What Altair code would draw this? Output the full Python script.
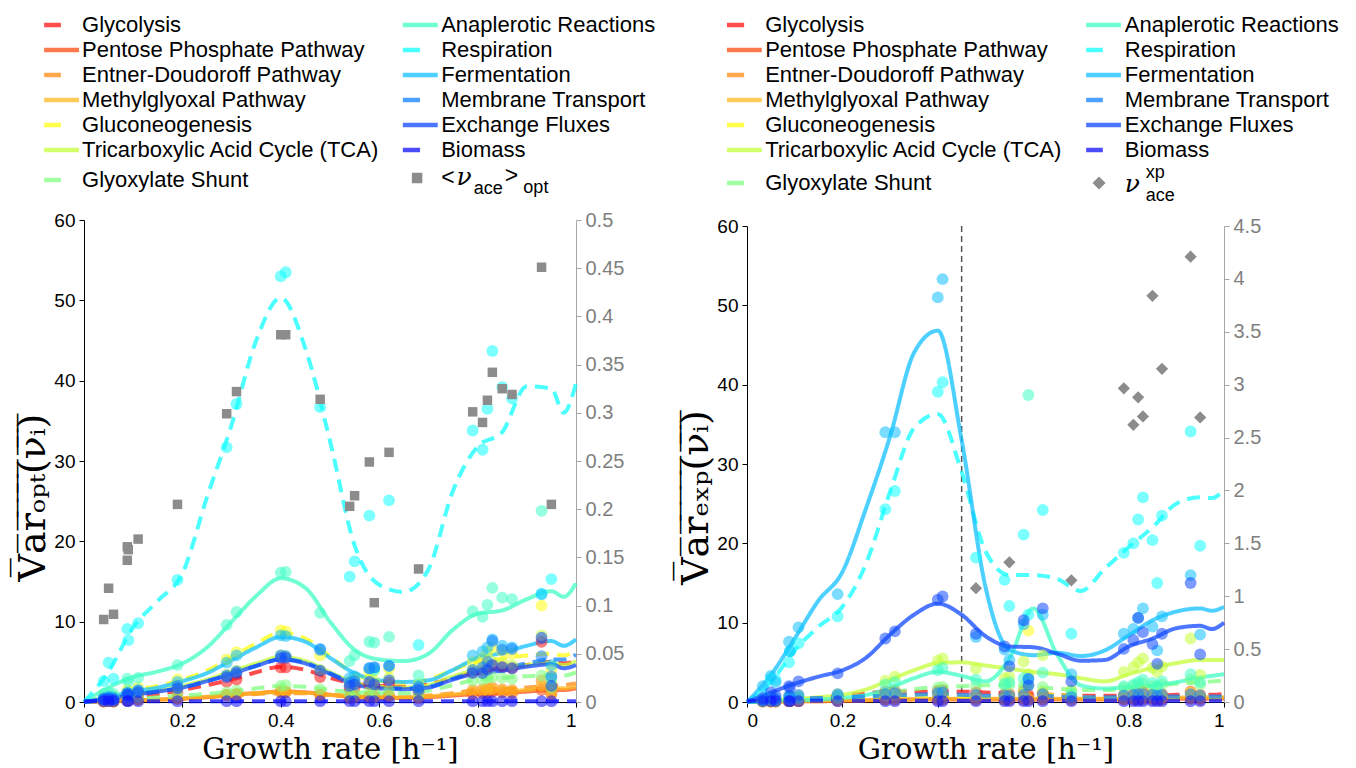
import altair as alt
import pandas as pd

CATS = ["Glycolysis", "Pentose Phosphate Pathway", "Entner-Doudoroff Pathway",
        "Methylglyoxal Pathway", "Gluconeogenesis", "Tricarboxylic Acid Cycle (TCA)",
        "Glyoxylate Shunt", "Anaplerotic Reactions", "Respiration", "Fermentation",
        "Membrane Transport", "Exchange Fluxes", "Biomass"]
COLORS = ["#ff1010", "#ff4a10", "#ff8a10", "#ffb820", "#ffff10", "#c4ff3a",
          "#80ff80", "#40ffc4", "#10ffff", "#10c0ff", "#1080ff", "#1048ff", "#1010ff"]
DASHED = [True, False, True, False, True, False, True, False, True, False, True, False, True]

GRID = [0, 0.05, 0.1, 0.15, 0.2, 0.25, 0.3, 0.35, 0.4, 0.45, 0.5, 0.55, 0.6,
        0.65, 0.7, 0.75, 0.8, 0.85, 0.9, 0.95, 0.975, 1.0]

# ---- left panel (optimal) smoothed curves
L_CURVES = {
    "Glycolysis": [0, 0.3, 0.7, 1.0, 1.5, 2.1, 2.8, 3.7, 4.4, 4.0, 3.0, 2.3, 2.0, 1.9, 2.2, 3.0, 3.8, 4.1, 4.6, 5.0, 4.8, 5.1],
    "Pentose Phosphate Pathway": [0, 0.1, 0.2, 0.3, 0.4, 0.6, 0.9, 1.1, 1.3, 1.2, 0.9, 0.6, 0.5, 0.5, 0.6, 0.8, 1.0, 1.1, 1.3, 1.5, 1.5, 1.7],
    "Entner-Doudoroff Pathway": [0, 0.1, 0.2, 0.3, 0.4, 0.6, 0.8, 1.0, 1.1, 1.1, 0.9, 0.7, 0.6, 0.6, 0.8, 1.1, 1.5, 1.6, 1.8, 2.0, 2.1, 2.3],
    "Methylglyoxal Pathway": [0, 0.1, 0.2, 0.3, 0.45, 0.65, 0.9, 1.1, 1.25, 1.15, 0.9, 0.65, 0.55, 0.55, 0.7, 0.95, 1.2, 1.3, 1.5, 1.7, 1.7, 1.9],
    "Gluconeogenesis": [0, 0.7, 1.5, 2.0, 2.8, 3.9, 5.6, 7.3, 8.6, 7.9, 5.7, 3.5, 2.6, 2.4, 2.8, 4.0, 5.0, 5.4, 5.8, 6.0, 5.8, 6.4],
    "Tricarboxylic Acid Cycle (TCA)": [0, 0.5, 1.0, 1.4, 2.0, 2.8, 3.8, 4.8, 5.6, 5.1, 3.7, 2.4, 1.9, 1.8, 2.1, 3.2, 4.0, 4.2, 4.6, 4.9, 4.6, 5.1],
    "Glyoxylate Shunt": [0, 0.2, 0.4, 0.6, 0.8, 1.0, 1.3, 1.7, 2.0, 1.9, 1.5, 1.2, 1.1, 1.1, 1.4, 2.1, 2.8, 3.0, 3.2, 3.4, 3.3, 3.7],
    "Anaplerotic Reactions": [0, 1.8, 3.1, 3.8, 4.8, 6.8, 10.0, 13.2, 15.4, 14.2, 10.0, 6.5, 5.3, 5.1, 6.0, 9.0, 11.0, 11.4, 12.8, 13.8, 13.1, 14.8],
    "Respiration": [0, 3.8, 9.3, 12.6, 16.0, 25.5, 34.5, 45.0, 50.3, 44.0, 32.5, 19.5, 14.6, 13.7, 16.5, 26.3, 31.8, 33.6, 39.3, 39.0, 36.0, 39.7],
    "Fermentation": [0, 0.6, 1.3, 1.8, 2.6, 3.6, 5.2, 6.8, 8.1, 7.5, 5.5, 3.6, 2.7, 2.5, 2.7, 4.0, 5.5, 6.1, 7.0, 7.6, 7.0, 7.8],
    "Membrane Transport": [0, 0.4, 0.9, 1.3, 1.8, 2.6, 3.5, 4.5, 5.3, 4.9, 3.6, 2.3, 1.8, 1.7, 1.9, 2.9, 3.8, 4.2, 4.8, 5.3, 5.3, 5.9],
    "Exchange Fluxes": [0, 0.4, 0.9, 1.3, 1.8, 2.6, 3.5, 4.5, 5.3, 4.8, 3.5, 2.2, 1.7, 1.6, 1.8, 2.8, 3.6, 3.9, 4.4, 4.7, 4.2, 4.6],
    "Biomass": [0.1, 0.1, 0.1, 0.1, 0.1, 0.1, 0.1, 0.1, 0.1, 0.1, 0.1, 0.1, 0.1, 0.1, 0.1, 0.1, 0.1, 0.1, 0.1, 0.1, 0.1, 0.1],
}

# ---- left panel sampled points
L_PX = [0.04, 0.05, 0.06, 0.088, 0.09, 0.11, 0.19, 0.29, 0.31, 0.40, 0.41, 0.48, 0.54,
        0.55, 0.58, 0.59, 0.62, 0.68, 0.79, 0.81, 0.82, 0.83, 0.85, 0.87, 0.93, 0.95]
L_PTS = {
    "Glycolysis": [0.2, 0.3, 0.2, 0.6, 0.5, 0.8, 1.2, 2.5, 2.8, 4.3, 4.3, 3.1, 1.7, 1.8, 2.2, 2.0, 2.4, 1.2, 3.7, 3.9, 4.2, 4.6, 4.4, 4.2, 7.5, 2.0],
    "Pentose Phosphate Pathway": [0.05, 0.1, 0.05, 0.2, 0.2, 0.3, 0.4, 0.9, 1.0, 1.3, 1.3, 0.9, 0.5, 0.6, 0.6, 0.6, 0.7, 0.5, 1.0, 1.1, 1.2, 1.3, 1.2, 1.1, 1.5, 1.0],
    "Entner-Doudoroff Pathway": [0.05, 0.1, 0.05, 0.2, 0.2, 0.3, 0.4, 0.8, 0.9, 1.2, 1.2, 0.9, 0.6, 0.6, 0.7, 0.6, 0.8, 0.6, 1.5, 1.6, 1.7, 1.8, 1.6, 1.5, 2.7, 1.2],
    "Methylglyoxal Pathway": [0.05, 0.1, 0.05, 0.2, 0.2, 0.3, 0.45, 0.9, 1.0, 1.3, 1.3, 0.9, 0.6, 0.6, 0.7, 0.6, 0.8, 0.6, 1.3, 1.4, 1.5, 1.6, 1.4, 1.3, 2.0, 1.1],
    "Gluconeogenesis": [0.6, 0.8, 0.7, 1.5, 1.3, 1.8, 2.8, 5.3, 6.2, 8.9, 8.8, 5.8, 2.6, 2.8, 3.8, 3.9, 4.2, 2.2, 5.0, 5.5, 6.2, 6.8, 6.3, 6.0, 12.0, 4.0],
    "Tricarboxylic Acid Cycle (TCA)": [0.4, 0.5, 0.4, 1.0, 0.9, 1.3, 1.9, 3.4, 3.9, 5.8, 5.7, 4.0, 2.2, 2.4, 2.8, 2.6, 3.0, 1.6, 4.0, 4.2, 4.6, 5.0, 4.8, 4.6, 8.3, 2.4],
    "Glyoxylate Shunt": [0.2, 0.2, 0.2, 0.5, 0.4, 0.6, 0.9, 1.2, 1.4, 2.0, 2.1, 1.6, 1.0, 1.1, 1.3, 1.2, 1.4, 0.9, 2.7, 2.8, 3.0, 3.1, 3.0, 2.9, 3.3, 1.8],
    "Anaplerotic Reactions": [1.0, 1.2, 1.0, 2.9, 2.5, 3.0, 4.6, 9.6, 11.2, 16.1, 16.2, 11.1, 5.1, 5.8, 7.5, 7.4, 8.1, 3.3, 11.3, 10.6, 12.1, 14.2, 13.0, 12.8, 23.8, 2.9],
    "Respiration": [2.6, 4.9, 2.9, 9.1, 7.7, 9.8, 15.2, 31.7, 37.1, 53.0, 53.5, 36.7, 15.6, 17.5, 23.2, 4.0, 25.1, 7.1, 33.8, 31.4, 36.5, 43.7, 39.2, 37.8, 13.5, 15.3],
    "Fermentation": [0.5, 0.7, 0.6, 1.2, 1.0, 1.5, 2.5, 4.9, 5.8, 8.3, 8.2, 6.6, 3.0, 3.2, 4.2, 4.3, 4.5, 2.0, 5.8, 6.3, 6.8, 7.8, 7.0, 6.8, 13.4, 4.6],
    "Membrane Transport": [0.4, 0.5, 0.4, 1.1, 1.0, 1.4, 2.0, 3.3, 3.8, 5.8, 5.7, 6.5, 2.4, 2.6, 4.2, 4.3, 4.5, 1.8, 4.0, 4.3, 5.0, 7.6, 6.5, 6.6, 5.7, 3.2],
    "Exchange Fluxes": [0.3, 0.4, 0.3, 0.9, 0.8, 1.2, 1.7, 3.1, 3.6, 5.5, 5.5, 3.9, 2.0, 2.2, 2.5, 2.2, 2.7, 1.5, 3.6, 3.6, 4.0, 4.6, 4.3, 4.2, 8.0, 2.0],
    "Biomass": [0.1, 0.1, 0.1, 0.1, 0.1, 0.1, 0.1, 0.1, 0.1, 0.1, 0.1, 0.1, 0.1, 0.1, 0.1, 0.1, 0.1, 0.1, 0.1, 0.1, 0.1, 0.1, 0.1, 0.1, 0.1, 0.1],
}
SQ_X = [0.04, 0.05, 0.06, 0.088, 0.088, 0.09, 0.11, 0.19, 0.29, 0.31, 0.40, 0.41, 0.48, 0.54,
        0.55, 0.58, 0.59, 0.62, 0.68, 0.79, 0.81, 0.82, 0.83, 0.85, 0.87, 0.93, 0.95]
SQ_Y = [0.0856, 0.118, 0.091, 0.147, 0.161, 0.158, 0.169, 0.205, 0.299, 0.322, 0.381, 0.381, 0.314,
        0.203, 0.214, 0.249, 0.103, 0.259, 0.138, 0.301, 0.290, 0.313, 0.342, 0.325, 0.319, 0.451, 0.205]

# ---- right panel (experimental) smoothed curves
R_CURVES = {
    "Glycolysis": [0, 0.1, 0.3, 0.5, 0.8, 1.1, 1.3, 1.3, 1.3, 1.3, 1.2, 1.1, 1.0, 0.9, 0.8, 0.8, 0.8, 0.8, 0.9, 0.9, 0.9, 1.0],
    "Pentose Phosphate Pathway": [0, 0.05, 0.1, 0.1, 0.15, 0.2, 0.25, 0.3, 0.3, 0.3, 0.3, 0.3, 0.3, 0.3, 0.3, 0.3, 0.3, 0.35, 0.4, 0.4, 0.4, 0.45],
    "Entner-Doudoroff Pathway": [0, 0.05, 0.1, 0.1, 0.15, 0.2, 0.3, 0.3, 0.35, 0.35, 0.35, 0.35, 0.35, 0.35, 0.35, 0.4, 0.4, 0.45, 0.5, 0.5, 0.5, 0.55],
    "Methylglyoxal Pathway": [0, 0.05, 0.1, 0.15, 0.2, 0.25, 0.3, 0.35, 0.4, 0.4, 0.4, 0.4, 0.4, 0.4, 0.4, 0.4, 0.45, 0.5, 0.55, 0.6, 0.6, 0.6],
    "Gluconeogenesis": [0, 0.1, 0.2, 0.3, 0.4, 0.5, 0.7, 0.8, 0.8, 0.7, 0.6, 0.8, 1.0, 0.9, 0.6, 0.5, 0.5, 0.5, 0.5, 0.5, 0.5, 0.5],
    "Tricarboxylic Acid Cycle (TCA)": [0, 0.2, 0.4, 0.6, 0.9, 1.6, 2.8, 4.0, 4.9, 5.0, 4.6, 4.2, 3.8, 3.5, 3.0, 2.6, 3.5, 4.3, 4.9, 5.3, 5.3, 5.3],
    "Glyoxylate Shunt": [0, 0.1, 0.2, 0.3, 0.5, 0.8, 1.2, 1.6, 1.9, 2.0, 2.1, 2.1, 1.9, 1.7, 1.5, 1.5, 1.8, 2.0, 2.3, 2.5, 2.6, 2.7],
    "Anaplerotic Reactions": [0, 0.1, 0.2, 0.3, 0.5, 0.9, 1.8, 3.0, 3.8, 3.3, 2.6, 5.5, 11.8, 6.0, 2.1, 1.7, 1.9, 2.1, 2.5, 3.1, 3.3, 3.5],
    "Respiration": [0, 2.5, 6.5, 9.5, 12.0, 17.5, 26.5, 34.5, 36.3, 29.0, 19.0, 16.0, 16.0, 15.5, 14.0, 16.8, 19.5, 22.0, 25.0, 25.8, 25.7, 26.8],
    "Fermentation": [0, 3.4, 8.0, 12.8, 16.4, 24.5, 33.5, 44.0, 46.8, 33.0, 14.5, 6.6, 5.9, 6.2, 5.8, 6.5, 8.4, 10.3, 11.4, 11.8, 11.5, 12.0],
    "Membrane Transport": [0, 0.2, 0.4, 0.5, 0.6, 0.7, 0.8, 0.9, 1.0, 0.9, 0.8, 0.8, 0.8, 0.7, 0.6, 0.6, 0.6, 0.7, 0.7, 0.7, 0.7, 0.7],
    "Exchange Fluxes": [0, 1.2, 2.3, 3.2, 4.0, 5.6, 8.5, 11.0, 12.4, 11.0, 8.3, 7.0, 6.9, 6.1, 5.2, 5.3, 7.0, 8.0, 9.3, 9.6, 9.2, 10.0],
    "Biomass": [0.15, 0.15, 0.15, 0.15, 0.15, 0.15, 0.15, 0.15, 0.15, 0.15, 0.15, 0.15, 0.15, 0.15, 0.15, 0.15, 0.15, 0.15, 0.15, 0.15, 0.15, 0.15],
}

R_PX = [0.033, 0.05, 0.06, 0.088, 0.09, 0.108, 0.19, 0.29, 0.31, 0.40, 0.41, 0.48, 0.54, 0.55,
        0.58, 0.59, 0.62, 0.68, 0.79, 0.81, 0.82, 0.83, 0.85, 0.86, 0.87, 0.93, 0.95]
R_PTS = {
    "Glycolysis": [0.1, 0.2, 0.1, 0.3, 0.3, 0.4, 0.6, 1.3, 1.4, 1.4, 1.5, 1.2, 1.0, 1.0, 1.3, 0.9, 1.1, 0.7, 0.9, 1.0, 1.1, 1.2, 1.0, 0.8, 1.0, 1.3, 0.9],
    "Pentose Phosphate Pathway": [0.05, 0.05, 0.05, 0.1, 0.1, 0.1, 0.15, 0.3, 0.3, 0.3, 0.3, 0.3, 0.3, 0.3, 0.3, 0.3, 0.3, 0.3, 0.3, 0.3, 0.35, 0.35, 0.3, 0.3, 0.3, 0.4, 0.3],
    "Entner-Doudoroff Pathway": [0.05, 0.05, 0.05, 0.1, 0.1, 0.1, 0.2, 0.3, 0.35, 0.4, 0.4, 0.35, 0.35, 0.35, 0.4, 0.35, 0.4, 0.35, 0.4, 0.45, 0.45, 0.5, 0.45, 0.4, 0.45, 0.5, 0.45],
    "Methylglyoxal Pathway": [0.05, 0.05, 0.05, 0.1, 0.1, 0.15, 0.2, 0.35, 0.4, 0.45, 0.45, 0.4, 0.4, 0.4, 0.45, 0.4, 0.45, 0.4, 0.5, 0.5, 0.55, 0.55, 0.5, 0.5, 0.55, 0.6, 0.55],
    "Gluconeogenesis": [0.1, 0.2, 0.1, 0.3, 0.3, 0.4, 0.5, 0.8, 0.9, 1.0, 1.0, 0.8, 0.8, 0.9, 1.2, 9.0, 1.2, 0.6, 0.8, 0.9, 1.0, 1.0, 0.9, 0.8, 0.9, 1.2, 0.8],
    "Tricarboxylic Acid Cycle (TCA)": [0.2, 0.4, 0.3, 0.6, 0.6, 0.8, 1.0, 2.7, 3.2, 5.2, 5.5, 4.2, 3.0, 3.2, 5.1, 3.5, 5.9, 1.5, 3.8, 4.4, 5.0, 5.5, 4.3, 3.8, 4.5, 8.0, 3.4],
    "Glyoxylate Shunt": [0.1, 0.2, 0.1, 0.3, 0.3, 0.4, 0.5, 1.2, 1.4, 1.8, 1.9, 2.0, 2.1, 2.2, 2.0, 2.1, 1.9, 1.4, 1.8, 2.0, 2.2, 2.3, 2.0, 1.8, 2.2, 2.8, 2.2],
    "Anaplerotic Reactions": [0.2, 0.3, 0.3, 0.5, 0.5, 0.6, 0.8, 2.2, 2.5, 4.0, 4.3, 2.8, 2.3, 2.5, 3.0, 38.7, 3.7, 1.0, 2.0, 2.2, 2.5, 2.8, 2.4, 2.0, 2.6, 3.5, 2.5],
    "Respiration": [1.0, 3.0, 2.8, 5.0, 6.4, 7.4, 10.8, 24.3, 26.6, 39.1, 40.3, 18.2, 15.4, 12.1, 21.1, 11.0, 24.2, 8.6, 18.8, 20.0, 23.0, 25.8, 20.4, 15.0, 23.5, 34.1, 19.7],
    "Fermentation": [2.0, 3.3, 2.5, 7.6, 6.4, 9.4, 13.6, 34.0, 34.0, 51.0, 53.3, 8.2, 6.6, 5.3, 9.8, 2.9, 11.0, 3.5, 8.6, 9.2, 10.6, 11.8, 9.5, 6.5, 10.8, 16.0, 8.5],
    "Membrane Transport": [0.3, 0.5, 0.4, 0.8, 0.7, 0.9, 1.0, 1.0, 1.1, 1.1, 1.2, 0.9, 0.8, 0.8, 0.9, 2.9, 1.0, 0.6, 0.8, 0.9, 1.0, 1.0, 0.9, 0.8, 0.9, 1.0, 0.8],
    "Exchange Fluxes": [0.5, 1.2, 0.8, 2.0, 1.8, 2.6, 3.6, 8.0, 8.9, 12.9, 13.3, 8.6, 7.0, 4.5, 10.3, 2.1, 11.8, 2.6, 6.7, 7.8, 10.6, 8.8, 7.3, 4.8, 8.6, 15.0, 6.0],
    "Biomass": [0.1, 0.1, 0.1, 0.1, 0.1, 0.1, 0.1, 0.1, 0.1, 0.1, 0.1, 0.1, 0.1, 0.1, 0.1, 0.1, 0.1, 0.1, 0.1, 0.1, 0.1, 0.1, 0.1, 0.1, 0.1, 0.1, 0.1],
}
DM_X = [0.48, 0.55, 0.68, 0.79, 0.81, 0.82, 0.83, 0.85, 0.87, 0.93, 0.95]
DM_Y = [1.076, 1.32, 1.15, 2.965, 2.62, 2.88, 2.70, 3.84, 3.15, 4.21, 2.69]
VLINE_X = [0.45]

X_TICKS = [0, 0.2, 0.4, 0.6, 0.8, 1.0]
Y_TICKS = [0, 10, 20, 30, 40, 50, 60]
R1_TICKS = [0, 0.05, 0.1, 0.15, 0.2, 0.25, 0.3, 0.35, 0.4, 0.45, 0.5]
R2_TICKS = [0, 0.5, 1, 1.5, 2, 2.5, 3, 3.5, 4, 4.5]

SANS = "Liberation Sans"
SERIF = "DejaVu Serif"
LABEL_FS = 19
LEG_FS = 22


def curves_df(curves):
    rows = []
    for i, c in enumerate(CATS):
        for x, y in zip(GRID, curves[c]):
            rows.append({"x": x, "y": y, "cat": c, "idx": i})
    return pd.DataFrame(rows)


def pts_df(xs, pts):
    rows = []
    for i, c in enumerate(CATS):
        for x, y in zip(xs, pts[c]):
            rows.append({"x": x, "y": y, "cat": c, "idx": i})
    return pd.DataFrame(rows)


color_enc = alt.Color("cat:N", scale=alt.Scale(domain=CATS, range=COLORS), legend=None)
dash_enc = alt.StrokeDash("cat:N", scale=alt.Scale(domain=CATS,
                          range=[[13, 8] if d else [1, 0] for d in DASHED]), legend=None)


def panel(curves, xs, pts, mx, my, mshape, msize, rmax, rticks, rfmt, ytitle, ty, w, h, vline=None):
    xscale = alt.Scale(domain=[0, 1], nice=False, zero=False)
    xaxis = alt.Axis(values=X_TICKS, format=".1~f", title="Growth rate [h⁻¹]", grid=False,
                     labelFont=SANS, labelFontSize=LABEL_FS, labelColor="black",
                     titleFont=SERIF, titleFontSize=29, titleFontWeight="normal", titleColor="black",
                     domainColor="black", tickColor="black", tickSize=5, labelPadding=4, titlePadding=5)
    yaxis = alt.Axis(values=Y_TICKS, title=ytitle, grid=False, titleY=ty,
                     labelFont=SANS, labelFontSize=LABEL_FS, labelColor="black",
                     titleFont=SERIF, titleFontSize=38, titleFontWeight="normal", titleColor="black",
                     domainColor="black", tickColor="black", tickSize=5, labelPadding=4, titlePadding=1)
    X = alt.X("x:Q", scale=xscale, axis=xaxis)
    Y = alt.Y("y:Q", scale=alt.Scale(domain=[0, 60], nice=False), axis=yaxis)

    lines = alt.Chart(curves_df(curves)).mark_line(
        strokeWidth=4, opacity=0.75, interpolate="monotone").encode(
        x=X, y=Y, color=color_enc, strokeDash=dash_enc)
    points = alt.Chart(pts_df(xs, pts)).mark_circle(size=140, opacity=0.55).encode(
        x=X, y=Y, color=color_enc, order=alt.Order("idx:Q"))
    layers = [lines, points]
    if vline is not None:
        vr = alt.Chart(pd.DataFrame({"x": vline})).mark_rule(
            color="#555555", strokeWidth=1.5, strokeDash=[6, 4]).encode(x=X)
        layers = [vr] + layers
    left = alt.layer(*layers)

    raxis = alt.Axis(orient="right", values=rticks, format=rfmt, title=None, grid=False,
                     labelFont=SANS, labelFontSize=20, labelColor="#7f7f7f",
                     domainColor="#a6a6a6", tickColor="#a6a6a6", tickSize=5, labelPadding=4)
    markers = alt.Chart(pd.DataFrame({"x": mx, "y": my})).mark_point(
        shape=mshape, filled=True, size=msize, color="#8c8c8c", opacity=1).encode(
        x=X, y=alt.Y("y:Q", scale=alt.Scale(domain=[0, rmax], nice=False), axis=raxis))
    return alt.layer(left, markers).resolve_scale(y="independent").properties(width=w, height=h)


def legend(w, pos, glyox_row, marker_shape, marker_size, marker_xy, extras):
    rows = []
    for i, c in enumerate(CATS):
        col = 0 if i < 7 else 1
        r = i if i < 7 else i - 7
        if i == 6:
            r = glyox_row
        p = pos[col]
        rows.append({"cat": c, "r": r, "x1": p[0], "x2": p[1] if DASHED[i] else p[2], "tx": p[3]})
    df = pd.DataFrame(rows)
    lx = alt.Scale(domain=[0, 1], nice=False, zero=False)
    ly = alt.Scale(domain=[-0.48, 7.52], nice=False, zero=False, reverse=True)
    sym = alt.Chart(df).mark_rule(strokeWidth=4.5, opacity=0.75).encode(
        x=alt.X("x1:Q", scale=lx, axis=None), x2="x2:Q",
        y=alt.Y("r:Q", scale=ly, axis=None), color=color_enc)
    txt = alt.Chart(df).mark_text(align="left", baseline="middle", font=SANS,
                                  fontSize=LEG_FS, color="black").encode(
        x=alt.X("tx:Q", scale=lx, axis=None), y=alt.Y("r:Q", scale=ly, axis=None), text="cat:N")
    mk = alt.Chart(pd.DataFrame({"x": [marker_xy[0]], "r": [marker_xy[1]]})).mark_point(
        shape=marker_shape, filled=True, size=marker_size, color="#8c8c8c", opacity=1).encode(
        x=alt.X("x:Q", scale=lx, axis=None), y=alt.Y("r:Q", scale=ly, axis=None))
    layers = [sym, txt, mk]
    for (t, x, r, fs, font, style) in extras:
        layers.append(alt.Chart(pd.DataFrame({"x": [x], "r": [r], "t": [t]})).mark_text(
            align="left", baseline="middle", font=font, fontSize=fs, fontStyle=style,
            color="black").encode(
            x=alt.X("x:Q", scale=lx, axis=None), y=alt.Y("r:Q", scale=ly, axis=None), text="t:N"))
    return alt.layer(*layers).properties(width=w, height=200)


WL, HL = 492, 482
WR, HR = 477, 476

leg_left = legend(
    WL,
    {0: (-0.081, -0.047, -0.010, -0.004), 1: (0.648, 0.683, 0.719, 0.726)},
    6.2, "square", 110, (0.677, 6.12),
    [("<", 0.726, 6.1, 23, SANS, "normal"),
     ("ν", 0.757, 6.08, 25, SERIF, "italic"),
     ("ace", 0.792, 6.55, 18, SANS, "normal"),
     (">", 0.855, 6.02, 23, SANS, "normal"),
     ("opt", 0.893, 6.5, 18, SANS, "normal")])

leg_right = legend(
    WR,
    {0: (-0.042, -0.006, 0.031, 0.038), 1: (0.711, 0.746, 0.784, 0.792)},
    6.32, "diamond", 170, (0.738, 6.32),
    [("ν", 0.792, 6.36, 25, SERIF, "italic"),
     ("xp", 0.836, 5.9, 18, SANS, "normal"),
     ("ace", 0.836, 6.84, 18, SANS, "normal")])

ytitle_opt = "V\u0305a\u0305r\u0305\u2092\u0305\u209a\u0305\u209c\u0305(\u0305\u03bd\u0305\u1d62\u0305)\u0305"
ytitle_exp = "V\u0305a\u0305r\u0305\u2091\u0305\u2093\u0305\u209a\u0305(\u0305\u03bd\u0305\u1d62\u0305)\u0305"

plot_left = panel(L_CURVES, L_PX, L_PTS, SQ_X, SQ_Y, "square", 90, 0.5, R1_TICKS, ".2~f",
                  ytitle_opt, 277, WL, HL)
plot_right = panel(R_CURVES, R_PX, R_PTS, DM_X, DM_Y, "diamond", 150, 4.5, R2_TICKS, ".1~f",
                   ytitle_exp, 271, WR, HR, vline=VLINE_X)

col_left = alt.vconcat(leg_left, plot_left, spacing=7, bounds="flush")
col_right = alt.vconcat(leg_right, plot_right, spacing=13, bounds="flush")

chart = alt.hconcat(col_left, col_right, spacing=21).properties(
    padding={"left": 6, "top": 5, "right": 0, "bottom": 0}
).configure(background="white").configure_view(stroke=None)

chart.save("out.html", embed_options={"renderer": "svg", "actions": False})
